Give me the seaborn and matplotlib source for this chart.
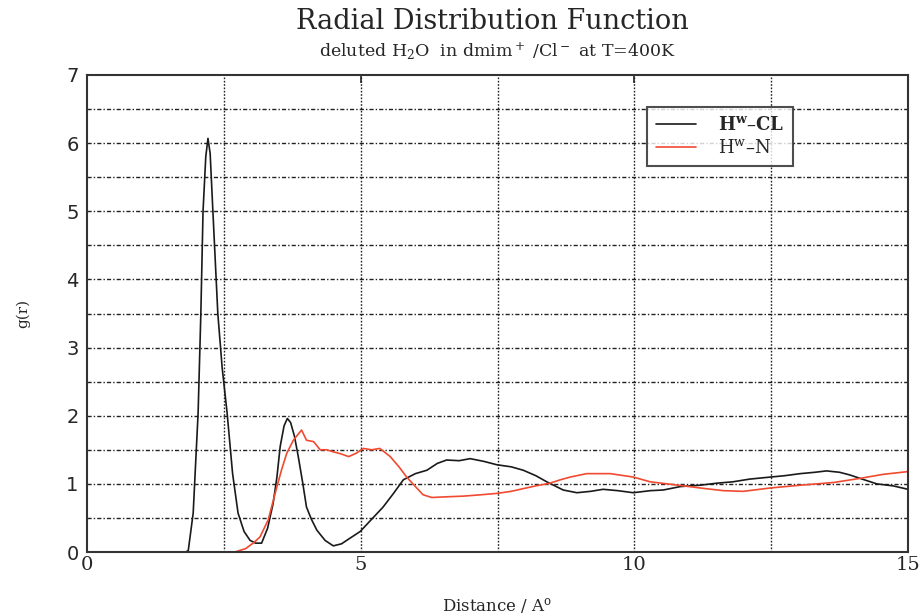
import numpy as np
import pandas as pd
import matplotlib
matplotlib.use("Agg")
import matplotlib.pyplot as plt
import seaborn as sns
from matplotlib.ticker import MultipleLocator

# H^w - CL curve
r_cl = [1.80, 1.85, 1.94, 2.03, 2.08, 2.12, 2.17, 2.21, 2.25, 2.30, 2.39, 2.47,
        2.56, 2.66, 2.76, 2.87, 2.98, 3.08, 3.19, 3.30, 3.40, 3.47, 3.53, 3.60,
        3.66, 3.72, 3.79, 3.86, 3.94, 4.01, 4.10, 4.20, 4.35, 4.50, 4.65, 4.80,
        4.99, 5.20, 5.41, 5.60, 5.78, 6.00, 6.21, 6.40, 6.57, 6.80, 7.00, 7.25,
        7.49, 7.75, 7.97, 8.20, 8.40, 8.55, 8.70, 8.95, 9.20, 9.43, 9.70, 9.98,
        10.29, 10.53, 10.84, 11.20, 11.51, 11.80, 12.11, 12.49, 12.75, 13.03, 13.30,
        13.51, 13.75, 13.94, 14.20, 14.43, 14.73, 15.00]
g_cl = [0.00, 0.02, 0.57, 2.04, 3.50, 5.00, 5.80, 6.07, 5.85, 5.00, 3.50, 2.70,
        2.04, 1.15, 0.57, 0.30, 0.17, 0.13, 0.13, 0.35, 0.71, 1.10, 1.55, 1.85,
        1.96, 1.90, 1.70, 1.40, 1.02, 0.66, 0.48, 0.32, 0.17, 0.09, 0.12, 0.20,
        0.30, 0.48, 0.66, 0.86, 1.06, 1.15, 1.20, 1.30, 1.35, 1.34, 1.37, 1.33,
        1.28, 1.25, 1.20, 1.12, 1.03, 0.97, 0.91, 0.87, 0.89, 0.92, 0.90, 0.87,
        0.90, 0.91, 0.96, 0.98, 1.01, 1.03, 1.07, 1.10, 1.12, 1.15, 1.17,
        1.19, 1.17, 1.13, 1.06, 1.00, 0.97, 0.92]

# H^w - N curve
r_n = [2.70, 2.90, 3.05, 3.16, 3.31, 3.47, 3.56, 3.65, 3.77, 3.85, 3.92, 4.01,
       4.14, 4.26, 4.38, 4.50, 4.64, 4.78, 4.92, 5.05, 5.20, 5.35, 5.54, 5.70,
       5.84, 6.00, 6.14, 6.30, 6.57, 6.88, 7.20, 7.49, 7.75, 7.97, 8.20, 8.46,
       8.65, 8.83, 9.13, 9.35, 9.56, 9.98, 10.29, 10.60, 10.90, 11.30, 11.63,
       11.99, 12.49, 13.03, 13.64, 14.12, 14.55, 15.00]
g_n = [0.00, 0.05, 0.14, 0.22, 0.47, 0.96, 1.22, 1.45, 1.64, 1.72, 1.79, 1.64,
       1.62, 1.50, 1.50, 1.47, 1.44, 1.40, 1.45, 1.52, 1.50, 1.52, 1.40, 1.25,
       1.10, 0.96, 0.84, 0.80, 0.81, 0.82, 0.84, 0.86, 0.89, 0.93, 0.97, 1.01,
       1.06, 1.10, 1.15, 1.15, 1.15, 1.10, 1.03, 1.00, 0.97, 0.93, 0.90,
       0.89, 0.94, 0.98, 1.02, 1.08, 1.14, 1.18]

labels = [r"H$^{\mathbf{w}}$–CL", r"H$^{\mathrm{w}}$–N"]
x_ticks = [0, 5, 10, 15]
y_ticks = [0, 1, 2, 3, 4, 5, 6, 7]

df = pd.concat([
    pd.DataFrame({"r": r_cl, "g": g_cl, "pair": labels[0]}),
    pd.DataFrame({"r": r_n, "g": g_n, "pair": labels[1]}),
])

sns.set_style("white")
plt.rcParams["font.family"] = ["DejaVu Serif"]
plt.rcParams["mathtext.fontset"] = "dejavuserif"

fig = plt.figure(figsize=(9.22, 6.15), dpi=100)
ax = fig.add_axes([87 / 922, 63 / 615, 821 / 922, 477 / 615])

sns.lineplot(data=df, x="r", y="g", hue="pair", sort=False,
             palette={labels[0]: "#1a1a1a", labels[1]: "#f04a30"},
             linewidth=1.2, ax=ax)

ax.set_xlim(0, 15)
ax.set_ylim(0, 7)
ax.set_xticks(x_ticks)
ax.set_yticks(y_ticks)
ax.xaxis.set_minor_locator(MultipleLocator(2.5))
ax.yaxis.set_minor_locator(MultipleLocator(0.5))

# grid: vertical dotted, horizontal dash-dot
for xv in np.arange(2.5, 15, 2.5):
    ax.axvline(xv, color="#222222", lw=1.0, ls=(0, (1.2, 1.2)), zorder=0)
for yv in np.arange(0.5, 7, 0.5):
    ax.axhline(yv, color="#222222", lw=1.0, ls=(0, (3, 1.5, 1, 1.5)), zorder=0)

ax.tick_params(axis="both", which="major", direction="in", length=6,
               top=True, right=False, width=1.2)
ax.tick_params(axis="both", which="minor", length=0)
ax.tick_params(axis="x", labelsize=14, pad=3)
ax.tick_params(axis="y", labelsize=14, pad=6)
for lab in ax.get_yticklabels():
    lab.set_family("DejaVu Sans")
for s in ax.spines.values():
    s.set_linewidth(1.5)
    s.set_color("#333333")

ax.set_xlabel(r"Distance / A$^{\mathrm{o}}$", fontsize=12, labelpad=16)
ax.set_ylabel("g(r)", fontsize=11, labelpad=26)

fig.text(0.534, 0.965, "Radial Distribution Function", ha="center",
         va="center", fontsize=19.5)
fig.text(0.539, 0.917,
         r"deluted H$_2$O  in dmim$^+$ /Cl$^-$ at T=400K",
         ha="center", va="center", fontsize=12.5)

leg = ax.legend(loc="upper right", bbox_to_anchor=(0.86, 0.933),
                borderaxespad=0, frameon=True, fancybox=False, fontsize=13,
                handlelength=2.2, borderpad=0.5, labelspacing=0.3,
                handletextpad=1.2)
leg.get_frame().set_edgecolor("#222222")
leg.get_frame().set_linewidth(1.5)
leg.get_texts()[0].set_fontweight("bold")

fig.savefig("out.png", dpi=100)
